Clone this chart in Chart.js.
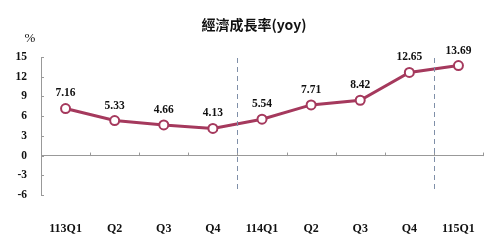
<!DOCTYPE html>
<html>
<head>
<meta charset="utf-8">
<script src="https://cdn.jsdelivr.net/npm/chart.js@4"></script>
<style>
  html, body { margin: 0; padding: 0; background: #fff; }
  #wrap { width: 498px; height: 244px; }
</style>
</head>
<body>
<div id="wrap"><canvas id="myChart" width="498" height="244"></canvas></div>
<script>
// datos del grafico
var categorias = ['113Q1', 'Q2', 'Q3', 'Q4', '114Q1', 'Q2', 'Q3', 'Q4', '115Q1'];
var crecimiento = [7.16, 5.33, 4.66, 4.13, 5.54, 7.71, 8.42, 12.65, 13.69];
var ticksY = [15, 12, 9, 6, 3, 0, -3, -6];
var cortes = [3, 7]; // linea punteada entre indice i e i+1
var titulo = '經濟成長率(yoy)';

var colorLinea = '#a5395d';
var fuente = '"Liberation Serif", "Times New Roman", serif';

var extras = {
  id: 'extras',
  afterDraw: function(chart) {
    var ctx = chart.ctx;
    var x = chart.scales.x, y = chart.scales.y;
    ctx.save();
    // titulo y %
    ctx.fillStyle = '#111';
    ctx.textAlign = 'center';
    ctx.textBaseline = 'middle';
    ctx.font = 'bold 14px "Noto Sans CJK TC", ' + fuente;
    ctx.fillText(titulo, 254, 25);
    ctx.font = '13px ' + fuente;
    ctx.fillText('%', 30, 39);

    // marcas del eje x sobre la linea del cero
    var y0 = y.getPixelForValue(0);
    ctx.strokeStyle = '#999';
    ctx.lineWidth = 1;
    for (var i = 0; i <= categorias.length; i++) {
      var px = i == 0 ? chart.chartArea.left : (i == categorias.length ? chart.chartArea.right
        : (x.getPixelForValue(i - 1) + x.getPixelForValue(i)) / 2);
      ctx.beginPath();
      ctx.moveTo(Math.round(px) + 0.5, y0 - 3);
      ctx.lineTo(Math.round(px) + 0.5, y0 + 0.5);
      ctx.stroke();
    }
    // marcas del eje y hacia adentro
    for (var t = 0; t < ticksY.length; t++) {
      var py = Math.round(y.getPixelForValue(ticksY[t])) + 0.5;
      ctx.beginPath();
      ctx.moveTo(chart.chartArea.left, py);
      ctx.lineTo(chart.chartArea.left + 3, py);
      ctx.stroke();
    }

    // lineas punteadas
    ctx.strokeStyle = '#7f8fa8';
    ctx.setLineDash([5, 4]);
    for (var k = 0; k < cortes.length; k++) {
      var cx = (x.getPixelForValue(cortes[k]) + x.getPixelForValue(cortes[k] + 1)) / 2;
      ctx.beginPath();
      ctx.moveTo(Math.round(cx) + 0.5, y.getPixelForValue(15) + 1);
      ctx.lineTo(Math.round(cx) + 0.5, y.getPixelForValue(-6) - 3);
      ctx.stroke();
    }
    ctx.setLineDash([]);

    // etiquetas de valores
    var meta = chart.getDatasetMeta(0);
    ctx.fillStyle = '#111';
    ctx.font = 'bold 11.5px ' + fuente;
    for (var j = 0; j < meta.data.length; j++) {
      var p = meta.data[j];
      ctx.fillText(crecimiento[j].toFixed(2), p.x, p.y - 15);
    }
    ctx.restore();
  }
};

var ctx = document.getElementById('myChart').getContext('2d');
var chart = new Chart(ctx, {
  type: 'line',
  data: {
    labels: categorias,
    datasets: [{
      data: crecimiento,
      borderColor: colorLinea,
      borderWidth: 3,
      pointRadius: 4.5,
      pointBorderWidth: 2,
      pointBackgroundColor: '#fff',
      pointBorderColor: colorLinea,
      tension: 0
    }]
  },
  options: {
    responsive: false,
    animation: false,
    layout: { padding: { left: 0, right: 15, top: 57, bottom: 0 } },
    plugins: { legend: { display: false }, tooltip: { enabled: false } },
    scales: {
      x: {
        offset: true,
        grid: { display: false },
        border: { display: false },
        ticks: {
          color: '#111',
          padding: 19,
          maxRotation: 0,
          autoSkip: false,
          font: { family: fuente, size: 12, weight: 'bold' }
        },
        afterFit: function(s) { s.height = 49; }
      },
      y: {
        min: -6,
        max: 15,
        afterBuildTicks: function(s) {
          s.ticks = ticksY.map(function(v) { return { value: v }; });
        },
        border: { display: true, color: '#999', width: 1 },
        grid: {
          color: function(c) { return c.tick && c.tick.value === 0 ? '#999' : 'rgba(0,0,0,0)'; },
          drawTicks: false,
          lineWidth: 1
        },
        ticks: {
          color: '#111',
          padding: 14,
          font: { family: fuente, size: 11.5, weight: 'bold' }
        },
        afterFit: function(s) { s.width = 41; }
      }
    }
  },
  plugins: [extras]
});
</script>
</body>
</html>
